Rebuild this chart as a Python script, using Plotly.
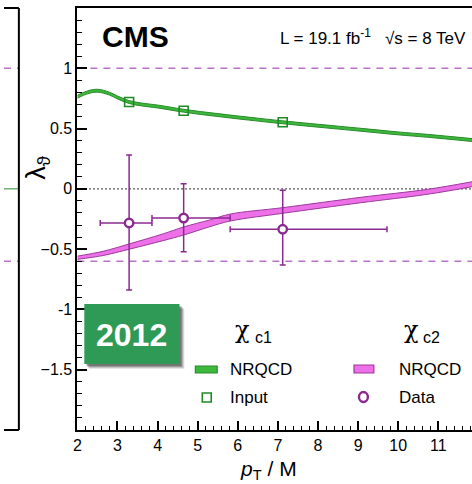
import plotly.graph_objects as go

W, H = 472, 484
FONT = "Liberation Sans, Arial, Helvetica, sans-serif"
GREEK = "DejaVu Serif, serif"

# chi_c1 NRQCD band (pT/M, lower, upper)
c1_x = [2.0, 2.25, 2.5, 2.8, 3.0, 3.29, 3.6, 4.0, 4.65, 5.5, 6.5, 7.12, 8.5, 9.07, 10.0, 10.73, 11.84]
c1_lo = [0.752, 0.788, 0.802, 0.778, 0.746, 0.708, 0.688, 0.671, 0.636, 0.600, 0.562, 0.540, 0.496, 0.478, 0.448, 0.428, 0.393]
c1_hi = [0.776, 0.812, 0.826, 0.802, 0.770, 0.732, 0.712, 0.695, 0.660, 0.624, 0.586, 0.564, 0.520, 0.502, 0.472, 0.452, 0.417]

# chi_c1 input points
inp_x = [3.29, 4.65, 7.12]
inp_y = [0.720, 0.648, 0.552]

# chi_c2 NRQCD band
c2_x = [2.0, 2.64, 3.29, 4.13, 4.65, 5.3, 5.81, 7.12, 9.07, 10.73, 11.84]
c2_lo = [-0.585, -0.553, -0.501, -0.430, -0.383, -0.314, -0.267, -0.203, -0.115, -0.045, 0.018]
c2_hi = [-0.558, -0.518, -0.457, -0.374, -0.316, -0.258, -0.209, -0.156, -0.070, -0.004, 0.059]

# chi_c2 measured lambda_theta with bin edges and uncertainties
dat_x = [3.29, 4.65, 7.12]
dat_xlo = [2.57, 3.86, 5.81]
dat_xhi = [3.86, 5.81, 9.72]
dat_y = [-0.283, -0.242, -0.335]
dat_ylo = [-0.839, -0.521, -0.632]
dat_yhi = [0.281, 0.043, -0.012]

# reference lines
limit_hi, limit_lo = 1.0, -0.6

x_ticks = [2, 3, 4, 5, 6, 7, 8, 9, 10, 11]
y_ticks = [-1.5, -1, -0.5, 0, 0.5, 1]
y_ticktext = ["\u22121.5", "-1", "\u22120.5", "0", "0.5", "1"]

GREEN_FILL = "#3cb83c"
GREEN_EDGE = "#2a8a2a"
GREEN_MK = "#1f8a24"
PINK_FILL = "#ee70e8"
PINK_EDGE = "#9a3a9a"
PURPLE = "#8a2a90"
DASH = "#b873c8"

fig = go.Figure()

# bands: lower edge then upper edge filled to it
fig.add_trace(go.Scatter(x=c2_x, y=c2_lo, mode="lines", line=dict(color=PINK_EDGE, width=1, shape="spline"),
                         showlegend=False, hoverinfo="skip"))
fig.add_trace(go.Scatter(x=c2_x, y=c2_hi, mode="lines", line=dict(color=PINK_EDGE, width=1, shape="spline"),
                         fill="tonexty", fillcolor=PINK_FILL, showlegend=False, hoverinfo="skip"))
fig.add_trace(go.Scatter(x=c1_x, y=c1_lo, mode="lines", line=dict(color=GREEN_EDGE, width=1, shape="spline"),
                         showlegend=False, hoverinfo="skip"))
fig.add_trace(go.Scatter(x=c1_x, y=c1_hi, mode="lines", line=dict(color=GREEN_EDGE, width=1, shape="spline"),
                         fill="tonexty", fillcolor=GREEN_FILL, showlegend=False, hoverinfo="skip"))

# input points
fig.add_trace(go.Scatter(x=inp_x, y=inp_y, mode="markers",
                         marker=dict(symbol="square-open", size=9, color=GREEN_MK, line=dict(width=1.6, color=GREEN_MK)),
                         showlegend=False))

# data with asymmetric errors
fig.add_trace(go.Scatter(
    x=dat_x, y=dat_y, mode="markers",
    marker=dict(symbol="circle", size=8.5, color="white", line=dict(width=2.4, color=PURPLE)),
    error_x=dict(type="data", symmetric=False,
                 array=[h - c for h, c in zip(dat_xhi, dat_x)],
                 arrayminus=[c - l for c, l in zip(dat_x, dat_xlo)],
                 color=PURPLE, thickness=1.5, width=3),
    error_y=dict(type="data", symmetric=False,
                 array=[h - c for h, c in zip(dat_yhi, dat_y)],
                 arrayminus=[c - l for c, l in zip(dat_y, dat_ylo)],
                 color=PURPLE, thickness=1.5, width=3),
    showlegend=False))

# neighbouring panel (only its right edge shows)
fig.add_trace(go.Scatter(x=[0, 1], y=[0, 0], mode="lines", line=dict(color="#2a8a2a", width=1),
                         xaxis="x2", yaxis="y", showlegend=False, hoverinfo="skip"))
for yv in (limit_hi, limit_lo):
    fig.add_trace(go.Scatter(x=[0, 1], y=[yv, yv], mode="lines", line=dict(color=DASH, width=1.5, dash="7px,6px"),
                             xaxis="x2", yaxis="y", showlegend=False, hoverinfo="skip"))


def px(xp):
    return xp / W


def py(yp):
    return (430 - yp) / 422


shapes = []
# horizontal reference lines in the main panel
for yv in (limit_hi, limit_lo):
    shapes.append(dict(type="line", xref="x domain", yref="y", x0=0, x1=1, y0=yv, y1=yv,
                       line=dict(color=DASH, width=1.5, dash="7px,6px"), layer="below"))
shapes.append(dict(type="line", xref="x domain", yref="y", x0=0, x1=1, y0=0, y1=0,
                   line=dict(color="black", width=1.3, dash="1.3px,2.7px"), layer="below"))

# frame of the neighbouring panel
shapes.append(dict(type="line", xref="paper", yref="paper", x0=px(15), x1=px(15), y0=0, y1=1,
                   line=dict(color="black", width=2)))
shapes.append(dict(type="line", xref="paper", yref="paper", x0=0, x1=px(15), y0=1, y1=1,
                   line=dict(color="black", width=2)))
shapes.append(dict(type="line", xref="paper", yref="paper", x0=0, x1=px(15), y0=0, y1=0,
                   line=dict(color="black", width=2)))

# year badge with soft shadow
for off, op in ((5, 0.10), (4, 0.15), (3, 0.2), (2, 0.25)):
    shapes.append(dict(type="rect", xref="paper", yref="paper",
                       x0=px(81 + off), x1=px(177 + off), y0=py(364 + off), y1=py(304 + off),
                       fillcolor="rgba(0,0,0,%.2f)" % op, line=dict(width=0), layer="above"))
shapes.append(dict(type="rect", xref="paper", yref="paper", x0=px(81), x1=px(177), y0=py(364), y1=py(304),
                   fillcolor="#2f9a55", line=dict(width=0), layer="above"))

# legend symbols
shapes.append(dict(type="rect", xref="paper", yref="paper", x0=px(193), x1=px(215), y0=py(373), y1=py(366),
                   fillcolor=GREEN_FILL, line=dict(color=GREEN_EDGE, width=1.2)))
shapes.append(dict(type="rect", xref="paper", yref="paper", x0=px(200), x1=px(209), y0=py(402), y1=py(393),
                   fillcolor="white", line=dict(color=GREEN_MK, width=1.6)))
shapes.append(dict(type="rect", xref="paper", yref="paper", x0=px(353), x1=px(373), y0=py(373), y1=py(365),
                   fillcolor=PINK_FILL, line=dict(color=PINK_EDGE, width=1.2)))
shapes.append(dict(type="circle", xref="paper", yref="paper", x0=px(358), x1=px(367), y0=py(402), y1=py(392),
                   fillcolor="white", line=dict(color=PURPLE, width=2.4)))

annotations = [
    dict(text="<b>CMS</b>", x=px(97), y=py(36), xanchor="left", yanchor="middle",
         font=dict(size=30, color="black", family=FONT)),
    dict(text="L = 19.1 fb<sup>-1</sup>   \u221As = 8 TeV", x=px(468), y=py(37), xanchor="right",
         yanchor="middle", font=dict(size=17, color="black", family=FONT)),
    dict(text="<b>2012</b>", x=px(129), y=py(335), xanchor="center", yanchor="middle",
         font=dict(size=32, color="white", family=FONT)),
    # legend column headers: chi glyph plus its subscript
    dict(text="\u03c7", x=px(241), y=py(330), xanchor="center", yanchor="middle",
         font=dict(size=24, color="black", family=GREEK)),
    dict(text="c1", x=px(251), y=py(337), xanchor="left", yanchor="middle",
         font=dict(size=16, color="black", family=FONT)),
    dict(text="\u03c7", x=px(411), y=py(330), xanchor="center", yanchor="middle",
         font=dict(size=24, color="black", family=GREEK)),
    dict(text="c2", x=px(421), y=py(337), xanchor="left", yanchor="middle",
         font=dict(size=16, color="black", family=FONT)),
    dict(text="NRQCD", x=px(226), y=py(369), xanchor="left", yanchor="middle",
         font=dict(size=17, color="black", family=FONT)),
    dict(text="Input", x=px(226), y=py(397), xanchor="left", yanchor="middle",
         font=dict(size=17, color="black", family=FONT)),
    dict(text="NRQCD", x=px(396), y=py(369), xanchor="left", yanchor="middle",
         font=dict(size=17, color="black", family=FONT)),
    dict(text="Data", x=px(396), y=py(397), xanchor="left", yanchor="middle",
         font=dict(size=17, color="black", family=FONT)),
    dict(text="\u03bb<sub>\u03d1</sub>", x=px(34), y=py(167), xanchor="center", yanchor="middle",
         textangle=-90, font=dict(size=27, color="black", family=FONT)),
    dict(text="<i>p</i><sub>T</sub> / M", x=px(236), y=py(470), xanchor="left", yanchor="middle",
         font=dict(size=21, color="black", family=FONT)),
]
for a in annotations:
    a.update(xref="paper", yref="paper", showarrow=False)

fig.update_layout(
    width=W, height=H,
    margin=dict(l=0, r=0, t=8, b=54),
    paper_bgcolor="white", plot_bgcolor="white",
    font=dict(family=FONT, color="black", size=16),
    showlegend=False,
    shapes=shapes, annotations=annotations,
    xaxis=dict(domain=[74 / W, 1], range=[2, 11.84], tickmode="array", tickvals=x_ticks,
               ticks="inside", ticklen=9, tickwidth=1.5, tickcolor="black",
               minor=dict(tickmode="linear", tick0=2, dtick=0.2, ticks="inside", ticklen=4.5, tickwidth=1.2,
                          tickcolor="black", showgrid=False),
               showline=True, linewidth=2, linecolor="black", mirror=True,
               showgrid=False, zeroline=False, tickfont=dict(size=16, family=FONT), anchor="y"),
    xaxis2=dict(domain=[0, 15 / W], range=[0, 1], visible=False, anchor="y"),
    yaxis=dict(range=[-2, 1.5], tickmode="array", tickvals=y_ticks, ticktext=y_ticktext,
               ticks="inside", ticklen=10, tickwidth=1.5, tickcolor="black",
               minor=dict(tickmode="linear", tick0=0, dtick=0.1, ticks="inside", ticklen=5, tickwidth=1.2,
                          tickcolor="black", showgrid=False),
               showline=True, linewidth=2, linecolor="black",
               showgrid=False, zeroline=False, tickfont=dict(size=16, family=FONT), anchor="x"),
)

fig.write_html("out.html")
